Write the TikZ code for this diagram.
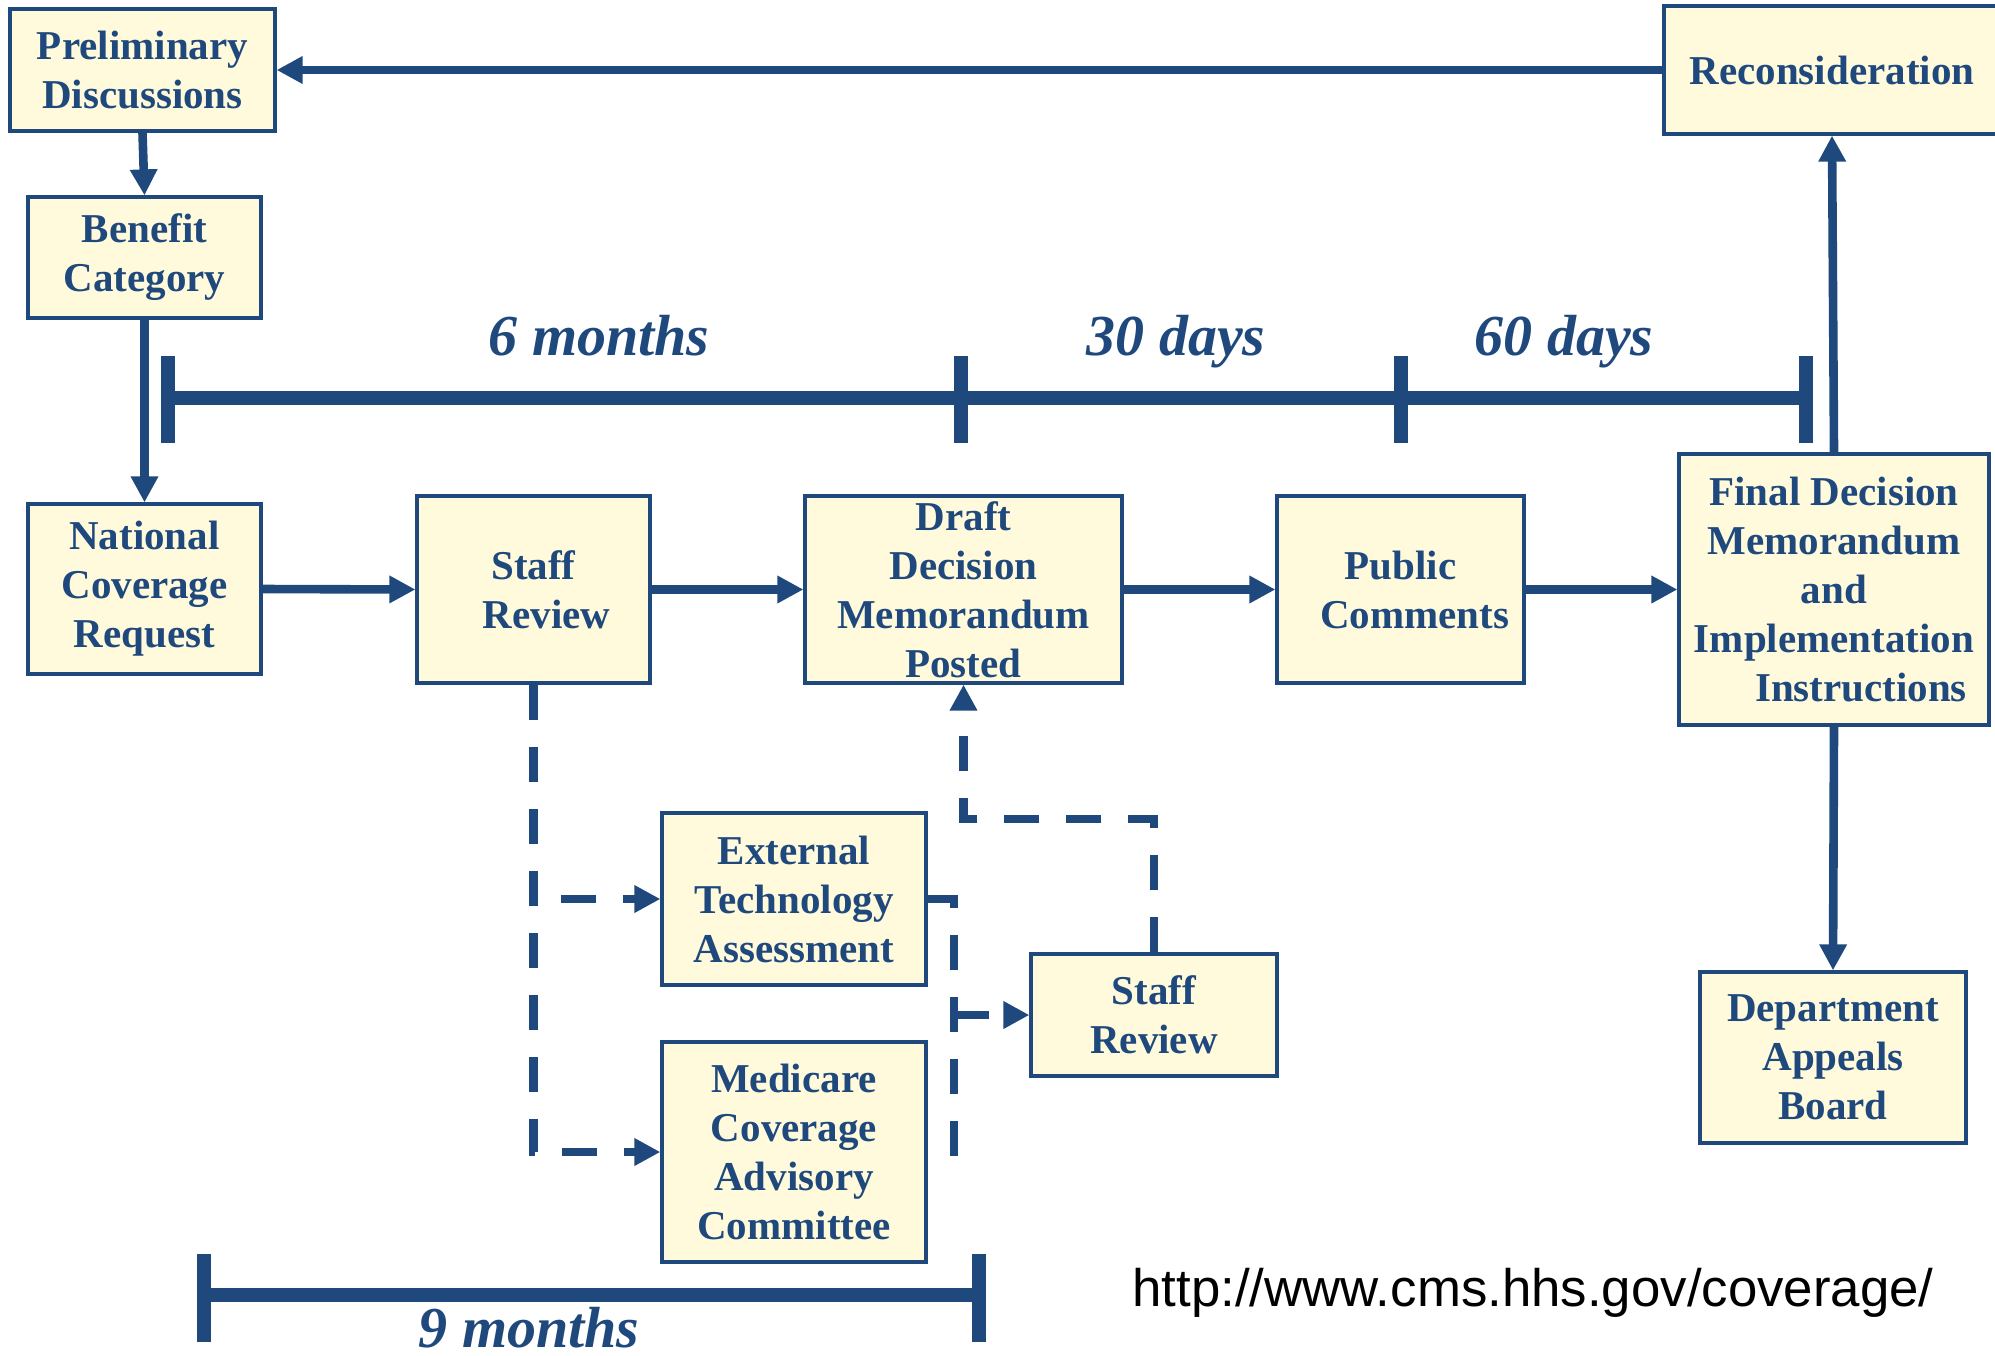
\documentclass[tikz,border=0pt]{standalone}
\usepackage{fontspec}
\setmainfont{Liberation Serif}
\newfontfamily\urlfont{Liberation Sans}
\usetikzlibrary{arrows.meta}
\definecolor{cmsblue}{RGB}{31,73,125}
\definecolor{cmsfill}{RGB}{255,250,220}
\begin{document}
\begin{tikzpicture}[x=0.5pt,y=-0.5pt,
 procbox/.style={draw=cmsblue, line width=1.6pt, fill=cmsfill, inner sep=0pt, align=center, text=cmsblue, font=\fontsize{20.5}{24.5}\selectfont\bfseries},
 conn/.style={draw=cmsblue, line width=4.3pt, -{Triangle[length=13pt,width=13pt]}},
 dconn/.style={conn, dash pattern=on 17.5pt off 13.5pt},
 dline/.style={draw=cmsblue, line width=4.3pt, dash pattern=on 17.5pt off 13.5pt},
 tlbar/.style={draw=cmsblue, line width=7pt},
 spanlabel/.style={text=cmsblue, font=\fontsize{29}{34}\selectfont\bfseries\itshape, anchor=base, inner sep=0pt},
]
\useasboundingbox (0,0) rectangle (1995,1355);

% boxes
\node[procbox, minimum width=132.5pt, minimum height=61pt] (prelim) at (142.5,70) {Preliminary\\Discussions};
\node[procbox, minimum width=116.5pt, minimum height=60.5pt] (benefit) at (144.5,257.5) {Benefit\\Category};
\node[procbox, minimum width=116.5pt, minimum height=85pt] (ncr) at (144.5,589) {National\\Coverage\\Request};
\node[procbox, minimum width=116.5pt, minimum height=93.5pt] (sr1) at (533.5,589.5) {Staff\\\hspace*{13pt}Review};
\node[procbox, minimum width=158.5pt, minimum height=93.5pt] (draft) at (963.5,589.5) {Draft\\Decision\\Memorandum\\Posted};
\node[procbox, minimum width=123.5pt, minimum height=93.5pt] (pub) at (1400.5,589.5) {Public\\\hspace*{14pt}Comments};
\node[procbox, minimum width=155pt, minimum height=135.5pt] (final) at (1834,589.5) {Final Decision\\Memorandum\\and\\Implementation\\\hspace*{27pt}Instructions};
\node[procbox, minimum width=168pt, minimum height=64pt] (recon) at (1832,70) {Reconsideration};
\node[procbox, minimum width=133pt, minimum height=85.5pt] (dept) at (1833,1057.5) {Department\\Appeals\\Board};
\node[procbox, minimum width=132pt, minimum height=86pt] (eta) at (794,899) {External\\Technology\\Assessment};
\node[procbox, minimum width=132pt, minimum height=110pt] (mcac) at (794,1152) {Medicare\\Coverage\\Advisory\\Committee};
\node[procbox, minimum width=123pt, minimum height=61pt] (sr2) at (1154,1015) {Staff\\Review};

% solid connectors
\draw[conn] (recon.west) -- (prelim.east);
\draw[conn] (prelim.south) -- (benefit.north);
\draw[conn] (benefit.south) -- (ncr.north);
\draw[conn] (ncr.east) -- (sr1.west);
\draw[conn] (sr1.east) -- (draft.west);
\draw[conn] (draft.east) -- (pub.west);
\draw[conn] (pub.east) -- (final.west);
\draw[conn] (final.north) -- (recon.south);
\draw[conn] (final.south) -- (dept.north);

% dashed connectors
\draw[dconn] (sr1.south) |- (mcac.west);
\draw[dconn, dash phase=17.5pt] (sr1.south |- eta.west) -- (eta.west);
\coordinate (join) at (954,1015);
\draw[dline] (eta.east) -| (join) |- (mcac.east);
\draw[dconn] (join) -- (sr2.west);
\coordinate (bend) at (963.5,819);
\draw[dconn] (sr2.north) |- (bend) -- (draft.south);

% top timeline
\draw[tlbar] (168,398) -- (1806,398);
\foreach \x in {168,961,1401,1806} \draw[tlbar] (\x,356) -- (\x,443);
\node[spanlabel] (l6m) at (599,355) {6 months};
\node[spanlabel] (l30) at (1176,355) {30 days};
\node[spanlabel] (l60) at (1564,355) {60 days};

% bottom timeline
\draw[tlbar] (204,1295) -- (979,1295);
\foreach \x in {204,979} \draw[tlbar] (\x,1254) -- (\x,1342);
\node[spanlabel] (l9m) at (529,1347) {9 months};

% url
\node[anchor=base west, inner sep=0pt, font=\urlfont\fontsize{26.4}{30}\selectfont] (url) at (1132,1306) {http://www.cms.hhs.gov/coverage/};
\end{tikzpicture}
\end{document}
